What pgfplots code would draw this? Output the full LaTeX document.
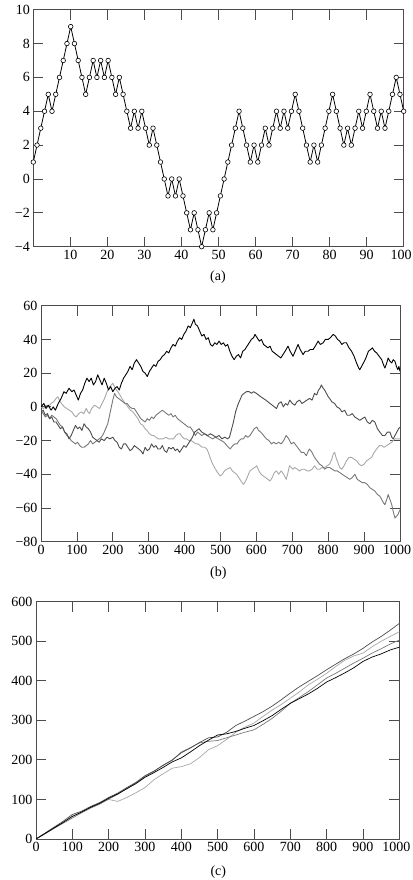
\documentclass[border=0pt]{standalone}
\usepackage{fontspec}
\setmainfont{Liberation Serif}
\usepackage{pgfplots}
\usepackage{pgfplotstable}
\pgfplotsset{compat=1.18}

\definecolor{dgray}{gray}{0.30}
\definecolor{mgray}{gray}{0.47}
\definecolor{lgray}{gray}{0.66}
\definecolor{spine}{gray}{0.30}

\pgfplotsset{
  panel/.style={
    scale only axis,
    anchor=south west,
    tick align=inside,
    major tick length=10pt,
    axis line style={spine, line width=0.8pt},
    every tick/.style={spine, line width=0.8pt},
    tick label style={font=\fontsize{14}{16}\selectfont, black},
  },
  walk/.style={line width=0.9pt, line join=round},
}

% panel (a): 100-step walk
\pgfplotstableread{
y
1
2
3
4
5
4
5
6
7
8
9
8
7
6
5
6
7
6
7
6
7
6
5
6
5
4
3
4
3
4
3
2
3
2
1
0
-1
0
-1
0
-1
-2
-3
-2
-3
-4
-3
-2
-3
-2
-1
0
1
2
3
4
3
2
1
2
1
2
3
2
3
4
3
4
3
4
5
4
3
2
1
2
1
2
3
4
5
4
3
2
3
2
3
4
3
4
5
4
3
4
3
4
5
6
5
4
}\walkA

\begin{document}
\begin{tikzpicture}
\useasboundingbox (0,0) rectangle (412pt,880pt);

% ---------- (a) ----------
\begin{axis}[panel, at={(33.3pt,633.3pt)}, width=370.4pt, height=237pt,
  xmin=0, xmax=100, ymin=-4, ymax=10,
  xtick={10,20,...,100},
  xticklabels={10,20,30,40,50,60,70,80,90,\makebox[0pt][r]{100\hspace{-8pt}}},
  ytick={-4,-2,...,10}, yticklabels={−4,−2,0,2,4,6,8,10}]
\addplot[black, line width=0.8pt, mark=*, mark size=2.3pt,
  mark options={fill=white, draw=black, line width=0.6pt}]
  table[x expr=\coordindex*100/99, y=y] {\walkA};
\end{axis}
\node[font=\fontsize{14}{16}\selectfont] at (218pt,603pt) {(a)};

% ---------- (b) ----------
\begin{axis}[panel, at={(41pt,338.3pt)}, width=359pt, height=236pt,
  xmin=0, xmax=1000, ymin=-80, ymax=60,
  xtick={0,100,...,1000},
  xticklabels={0,100,200,300,400,500,600,700,800,900,\makebox[0pt][r]{1000\hspace{-11pt}}},
  ytick={-80,-60,...,60}, yticklabels={−80,−60,−40,−20,0,20,40,60}]
% light gray
\addplot[walk, lgray] coordinates {
(0,0) (7,-1) (14,1) (21,0) (28,2) (35,3) (42,5) (47,6) (51,4) (57,2) (65,0) (72,-1) (79,-2) (86,-3) (92,-5) (98,-6) (105,-4) (112,-3) (119,-4) (126,-1) (131,-3) (135,-4) (141,-1) (149,1) (156,0) (163,-1) (170,2) (177,5) (184,9) (191,12) (196,13) (200,14) (205,12) (210,10) (214,9) (220,7) (228,4) (235,2) (242,0) (249,-2) (256,-3) (263,-5) (270,-7) (277,-10) (284,-11) (290,-13) (295,-14) (302,-16) (309,-17) (314,-17) (320,-18) (326,-19) (332,-19) (340,-19) (348,-18) (355,-19) (362,-19) (369,-19) (376,-17) (382,-16) (388,-16) (394,-18) (400,-19) (406,-19) (412,-20) (418,-20) (425,-21) (432,-22) (438,-22) (443,-23) (450,-24) (456,-24) (462,-25) (466,-27) (471,-30) (476,-33) (481,-35) (486,-37) (492,-39) (499,-41) (505,-40) (511,-38) (518,-37) (527,-36) (533,-38) (539,-39) (545,-40) (551,-42) (557,-44) (564,-46) (570,-44) (576,-41) (582,-38) (588,-37) (595,-36) (601,-35) (607,-38) (613,-40) (619,-41) (626,-42) (632,-43) (638,-44) (644,-42) (650,-39) (656,-38) (662,-40) (669,-38) (676,-40) (683,-43) (688,-39) (692,-35) (697,-36) (702,-37) (707,-36) (714,-37) (720,-38) (727,-37) (734,-37) (741,-38) (748,-38) (755,-37) (762,-35) (769,-37) (776,-37) (783,-36) (790,-36) (797,-35) (804,-34) (810,-31) (814,-28) (818,-27) (823,-31) (827,-33) (832,-36) (837,-37) (844,-35) (851,-32) (858,-30) (865,-30) (872,-31) (879,-32) (886,-34) (893,-35) (900,-34) (907,-32) (914,-31) (921,-30) (928,-27) (935,-25) (942,-23) (949,-23) (956,-24) (963,-23) (970,-22) (977,-21) (981,-20) (986,-19) (993,-19) (1000,-19)
};
% medium gray
\addplot[walk, mgray] coordinates {
(0,-2) (6,-4) (12,-6) (18,-5) (24,-7) (30,-5) (36,-6) (42,-7) (48,-9) (54,-11) (60,-12) (66,-15) (72,-17) (78,-18) (84,-20) (90,-21) (96,-22) (102,-21) (108,-23) (114,-24) (120,-24) (126,-23) (132,-22) (138,-20) (144,-22) (150,-21) (156,-20) (162,-19) (168,-18) (174,-16) (180,-13) (186,-10) (190,-6) (195,-1) (200,4) (205,8) (210,6) (216,5) (222,4) (228,3) (234,2) (240,2) (247,0) (254,-1) (260,-1) (266,-3) (272,-5) (278,-7) (284,-8) (290,-9) (296,-7) (302,-8) (308,-6) (314,-7) (320,-5) (326,-4) (332,-3) (338,-2) (344,-3) (350,-4) (356,-5) (362,-4) (368,-6) (374,-5) (380,-7) (386,-8) (392,-9) (398,-10) (404,-11) (410,-12) (416,-12) (422,-14) (430,-17) (436,-15) (442,-16) (448,-17) (456,-16) (462,-17) (470,-18) (478,-19) (486,-18) (494,-19) (502,-20) (510,-21) (518,-23) (527,-25) (534,-23) (540,-22) (546,-22) (552,-20) (558,-19) (564,-19) (570,-17) (576,-18) (582,-17) (588,-15) (594,-13) (601,-12) (606,-14) (612,-15) (620,-17) (628,-19) (635,-20) (642,-22) (648,-21) (655,-22) (662,-21) (669,-22) (676,-20) (683,-17) (690,-19) (697,-22) (704,-21) (711,-23) (718,-25) (725,-27) (732,-27) (739,-29) (745,-26) (748,-25) (755,-27) (762,-30) (769,-32) (776,-34) (783,-35) (790,-37) (797,-36) (804,-36) (811,-37) (818,-38) (825,-38) (832,-39) (839,-40) (846,-41) (853,-42) (860,-43) (867,-42) (874,-40) (881,-43) (888,-44) (895,-45) (902,-45) (909,-46) (916,-48) (923,-49) (930,-50) (937,-52) (944,-53) (949,-55) (954,-57) (958,-58) (963,-55) (967,-52) (972,-55) (977,-58) (981,-62) (986,-66) (990,-65) (994,-64) (1000,-61)
};
% dark gray
\addplot[walk, dgray] coordinates {
(0,-3) (6,-2) (12,-5) (18,-4) (24,-7) (30,-6) (36,-9) (42,-9) (48,-11) (54,-13) (60,-12) (66,-15) (72,-16) (78,-19) (84,-17) (90,-14) (96,-11) (102,-13) (108,-12) (114,-14) (120,-10) (126,-12) (132,-13) (138,-15) (144,-18) (150,-19) (156,-20) (162,-21) (168,-19) (176,-20) (184,-18) (192,-19) (200,-18) (206,-20) (212,-21) (218,-24) (224,-25) (230,-22) (236,-22) (242,-24) (248,-26) (254,-25) (260,-23) (266,-24) (272,-25) (278,-26) (284,-28) (290,-24) (296,-26) (302,-25) (308,-22) (314,-24) (320,-23) (326,-25) (332,-25) (338,-23) (344,-26) (350,-27) (356,-24) (362,-25) (368,-24) (374,-26) (380,-25) (386,-27) (392,-25) (398,-23) (404,-24) (410,-22) (416,-20) (422,-18) (428,-15) (434,-14) (440,-13) (448,-15) (456,-16) (464,-17) (472,-16) (480,-17) (488,-18) (496,-17) (504,-19) (512,-18) (520,-19) (525,-18) (530,-14) (536,-9) (542,-3) (548,1) (554,4) (560,7) (566,8) (572,9) (580,9) (586,8) (592,9) (600,8) (606,7) (612,6) (619,5) (626,4) (632,3) (638,2) (644,1) (650,0) (656,-1) (662,2) (669,3) (675,0) (681,2) (687,1) (693,4) (700,2) (707,1) (713,3) (720,4) (727,2) (734,3) (741,4) (748,5) (755,4) (762,8) (768,7) (773,10) (777,11) (781,13) (786,11) (790,10) (795,8) (800,6) (804,5) (810,3) (818,2) (824,0) (832,-1) (838,-3) (846,-2) (853,-5) (860,-5) (867,-4) (874,-6) (881,-7) (888,-8) (895,-7) (902,-6) (909,-9) (916,-10) (923,-8) (930,-9) (937,-13) (944,-15) (951,-17) (958,-17) (965,-15) (972,-15) (977,-18) (981,-19) (986,-17) (991,-15) (996,-13) (1000,-12)
};
% black
\addplot[walk, black] coordinates {
(0,0) (8,2) (14,-1) (20,1) (28,-2) (34,0) (40,-2) (48,2) (56,5) (64,9) (70,8) (78,11) (86,9) (92,10) (98,7) (104,4) (110,8) (116,10) (122,14) (128,17) (134,15) (140,17) (146,13) (152,15) (158,19) (164,16) (170,13) (176,17) (182,14) (188,10) (194,12) (200,9) (206,11) (212,12) (218,10) (224,14) (230,17) (236,19) (242,21) (248,24) (254,22) (260,26) (266,28) (272,26) (278,24) (284,21) (290,20) (296,18) (302,21) (308,23) (314,25) (320,24) (326,27) (332,28) (338,30) (344,31) (350,33) (356,32) (362,35) (368,37) (374,36) (380,39) (386,41) (392,40) (398,43) (404,45) (410,48) (416,47) (422,50) (426,52) (430,49) (436,48) (442,45) (448,42) (454,43) (460,40) (466,41) (472,37) (478,36) (484,38) (490,37) (496,39) (502,37) (508,38) (514,36) (520,37) (526,33) (532,30) (538,28) (544,30) (550,31) (556,29) (562,33) (568,34) (574,36) (580,38) (586,40) (592,41) (596,43) (602,41) (608,39) (614,40) (620,37) (626,36) (632,35) (638,36) (644,33) (650,32) (656,31) (662,30) (668,29) (674,31) (680,33) (688,36) (694,33) (702,30) (708,33) (716,37) (722,34) (730,31) (736,33) (744,33) (750,34) (758,34) (764,36) (772,39) (778,37) (786,38) (792,40) (800,40) (806,41) (814,43) (820,42) (826,40) (832,39) (838,37) (844,38) (851,38) (858,35) (865,33) (872,30) (879,26) (885,23) (888,22) (893,24) (898,26) (905,29) (912,33) (918,34) (923,35) (929,33) (935,32) (942,30) (949,28) (954,25) (958,23) (963,26) (967,29) (972,27) (977,26) (981,28) (986,27) (990,24) (994,22) (997,24) (1000,21)
};
\end{axis}
\node[font=\fontsize{14}{16}\selectfont] at (218.3pt,306.7pt) {(b)};

% ---------- (c) ----------
\begin{axis}[panel, at={(36pt,41pt)}, width=363.3pt, height=237.3pt,
  xmin=0, xmax=1000, ymin=0, ymax=600,
  xtick={0,100,...,1000},
  xticklabels={0,100,200,300,400,500,600,700,800,900,\makebox[0pt][r]{1000\hspace{-11pt}}},
  ytick={0,100,...,600}, yticklabels={0,100,200,300,400,500,600}]
\addplot[walk, line width=0.7pt, lgray] coordinates {
(0,0) (25,14) (50,29) (75,42) (100,58) (125,67) (150,80) (175,90) (200,100) (225,95) (250,105) (275,117) (300,130) (325,150) (350,165) (375,179) (400,183) (425,190) (450,206) (475,226) (500,236) (525,252) (550,270) (575,283) (600,293) (625,310) (650,326) (675,340) (700,356) (725,372) (750,390) (775,404) (800,419) (825,436) (850,452) (875,463) (900,470) (925,486) (950,500) (975,512) (1000,524)
};
\addplot[walk, line width=0.7pt, mgray] coordinates {
(0,0) (25,13) (50,27) (75,40) (100,53) (125,66) (150,78) (175,88) (200,101) (225,113) (250,128) (275,142) (300,158) (325,171) (350,187) (375,199) (400,220) (425,231) (450,243) (475,247) (500,249) (525,256) (550,263) (575,270) (600,276) (625,290) (650,305) (675,323) (700,343) (725,358) (750,373) (775,390) (800,407) (825,419) (850,432) (875,445) (900,457) (925,470) (950,481) (975,493) (1000,503)
};
\addplot[walk, line width=0.7pt, dgray] coordinates {
(0,0) (25,15) (50,30) (75,45) (100,62) (125,70) (150,82) (175,92) (200,105) (225,116) (250,130) (275,143) (300,160) (325,172) (350,186) (375,200) (400,218) (425,230) (450,244) (475,256) (500,258) (525,270) (550,287) (575,298) (600,310) (625,322) (650,336) (675,352) (700,369) (725,385) (750,399) (775,413) (800,428) (825,442) (850,456) (875,468) (900,482) (925,498) (950,512) (975,528) (1000,545)
};
\addplot[walk, line width=0.7pt, black] coordinates {
(0,0) (25,14) (50,28) (75,42) (100,57) (125,68) (150,80) (175,90) (200,103) (225,114) (250,127) (275,140) (300,156) (325,168) (350,181) (375,195) (400,205) (425,220) (450,236) (475,250) (500,263) (525,266) (550,272) (575,280) (600,287) (625,299) (650,312) (675,328) (700,343) (725,355) (750,367) (775,381) (800,397) (825,408) (850,420) (875,433) (900,449) (925,460) (950,468) (975,478) (1000,485)
};
\end{axis}
\node[font=\fontsize{14}{16}\selectfont] at (218.3pt,8.3pt) {(c)};
\end{tikzpicture}
\end{document}
